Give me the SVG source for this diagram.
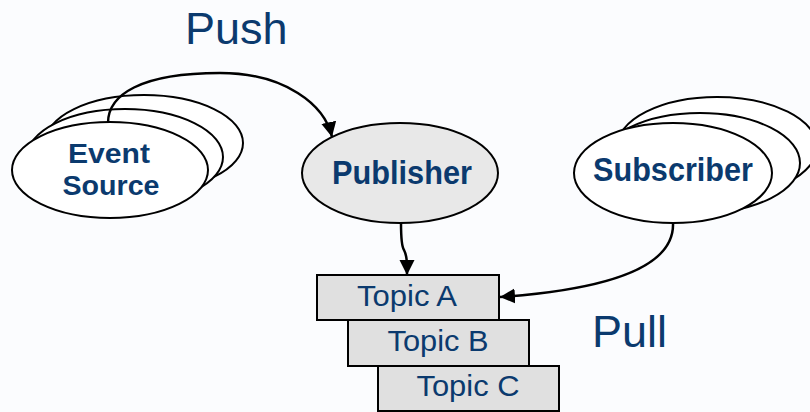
<svg xmlns="http://www.w3.org/2000/svg" width="810" height="412" viewBox="0 0 810 412">
  <defs>
    <marker id="arrow" markerUnits="userSpaceOnUse" markerWidth="16" markerHeight="16" refX="15" refY="8" orient="auto" viewBox="0 0 16 16">
      <path d="M0,0.5 L15,8 L0,15.5 z" fill="#000"/>
    </marker>
    <style>
      .node { stroke: #000; stroke-width: 2; }
      .white { fill: #fff; }
      .grey { fill: #e8e8e8; }
      .topic { fill: #e0e0e0; stroke: #000; stroke-width: 2; }
      .bold { font-family: "Liberation Sans", Arial, sans-serif; font-weight: bold; font-size: 34px; fill: #0b3a6e; text-anchor: middle; }
      .small { font-size: 28.5px; }
      .topictext { font-family: "Liberation Sans", Arial, sans-serif; font-size: 30px; fill: #0b3a6e; text-anchor: middle; }
      .big { font-family: "Liberation Sans", Arial, sans-serif; font-size: 45px; fill: #0b3a6e; }
      .conn { fill: none; stroke: #000; stroke-width: 2.5; marker-end: url(#arrow); }
    </style>
  </defs>
  <rect width="810" height="412" fill="#fbfcfe"/>

  <text class="big" x="185" y="44">Push</text>
  <text class="big" x="592" y="347">Pull</text>

  <g id="event-source">
    <ellipse class="node white" cx="144" cy="143" rx="99" ry="48"/>
    <ellipse class="node white" cx="125" cy="157" rx="98" ry="48"/>
    <ellipse class="node white" cx="110" cy="170" rx="98" ry="48"/>
    <text class="bold small" x="109" y="163" textLength="82" lengthAdjust="spacingAndGlyphs">Event</text>
    <text class="bold small" x="111" y="195" textLength="97" lengthAdjust="spacingAndGlyphs">Source</text>
  </g>

  <g id="publisher">
    <ellipse class="node grey" cx="400" cy="173" rx="98" ry="50"/>
    <text class="bold" x="402" y="184" textLength="140" lengthAdjust="spacingAndGlyphs">Publisher</text>
  </g>

  <g id="subscriber">
    <ellipse class="node white" cx="717" cy="147" rx="100" ry="50"/>
    <ellipse class="node white" cx="700" cy="163" rx="100" ry="50"/>
    <ellipse class="node white" cx="673" cy="173" rx="99" ry="50"/>
    <text class="bold" x="673" y="181" textLength="160" lengthAdjust="spacingAndGlyphs">Subscriber</text>
  </g>

  <g id="topic-c">
    <rect class="topic" x="378" y="366" width="181" height="45"/>
    <text class="topictext" x="468" y="396" textLength="103" lengthAdjust="spacingAndGlyphs">Topic C</text>
  </g>
  <g id="topic-b">
    <rect class="topic" x="348" y="320" width="181" height="46"/>
    <text class="topictext" x="438" y="351" textLength="101" lengthAdjust="spacingAndGlyphs">Topic B</text>
  </g>
  <g id="topic-a">
    <rect class="topic" x="317" y="275" width="182" height="45"/>
    <text class="topictext" x="407" y="306" textLength="100" lengthAdjust="spacingAndGlyphs">Topic A</text>
  </g>

  <g id="connectors">
    <path class="conn" d="M108,123 C108,95 140,73 220,73 C285,73 325,105 332,137"/>
    <path class="conn" d="M401,223 C401,240 402,247 404,250 C407,256 407,262 407,275"/>
    <path class="conn" d="M673,223 C675,270 600,290 500,297"/>
  </g>
</svg>
